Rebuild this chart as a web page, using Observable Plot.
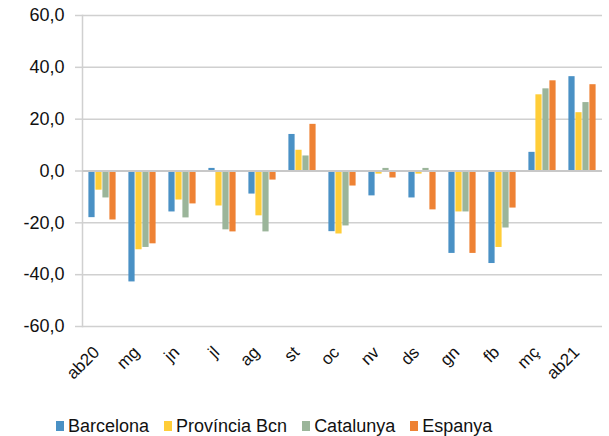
<!DOCTYPE html>
<html><head><meta charset="utf-8">
<script src="https://cdn.jsdelivr.net/npm/d3@7"></script>
<script src="https://cdn.jsdelivr.net/npm/@observablehq/plot@0.6"></script>
<style>
body{margin:0;background:#fff;font-family:"Liberation Sans",Arial,sans-serif;}
#chart svg{display:block}
#legend{height:36px;box-sizing:border-box;padding-top:16px;padding-left:56px;display:flex;align-items:center;font-size:18px;color:#111;line-height:20px}
#legend .item{display:flex;align-items:center;margin-right:15px}
#legend .sw{width:8px;height:10px;margin-right:4px}
</style></head><body><div id="chart"></div><div id="legend"></div>
<script>
const months = ["ab20","mg","jn","jl","ag","st","oc","nv","ds","gn","fb","mç","ab21"];
const seriesNames = ["Barcelona","Província Bcn","Catalunya","Espanya"];
const colors = ["#4a91c5","#ffcd38","#9bb59a","#ee8234"];
const barcelona = [-18.0,-42.8,-15.8,1.0,-8.9,14.1,-23.4,-9.6,-10.4,-31.8,-35.7,7.2,36.4];
const provincia = [-7.4,-30.4,-11.2,-13.5,-17.3,8.0,-24.3,-1.2,-1.2,-15.8,-29.5,29.4,22.5];
const catalunya = [-10.4,-29.5,-18.1,-22.7,-23.5,5.8,-21.2,1.0,1.0,-15.8,-22.0,31.7,26.4];
const espanya = [-18.9,-28.1,-12.7,-23.5,-3.5,18.0,-5.8,-2.7,-15.0,-31.8,-14.3,34.8,33.3];
const yTicks = [-60,-40,-20,0,20,40,60];

const seriesValues = [barcelona, provincia, catalunya, espanya];
const data = months.flatMap((m, i) => seriesNames.map((s, j) => ({month: m, series: s, value: seriesValues[j][i]})));

const chart = Plot.plot({
  width: 609, height: 400,
  marginLeft: 80, marginRight: 5, marginTop: 15, marginBottom: 74,
  style: {fontFamily: "Liberation Sans, Arial, sans-serif", background: "#fff", color: "#111"},
  fx: {domain: months, padding: 0, label: null, axis: null},
  x: {domain: seriesNames, axis: null, paddingInner: 0, paddingOuter: 0.73},
  y: {domain: [-60, 60], label: null},
  color: {domain: seriesNames, range: colors},
  marks: [
    Plot.ruleY(yTicks, {stroke: "#d0d0d0", strokeWidth: 1.5}),
    Plot.frame({anchor: "left", facetAnchor: "left", stroke: "#d0d0d0", strokeWidth: 1.5}),
    Plot.barY(data, {fx: "month", x: "series", y: "value", fill: "series", insetLeft: 0.4, insetRight: 0.4}),
    Plot.ruleY([0], {stroke: "#c8c8c8", strokeWidth: 2}),
    Plot.axisY({ticks: yTicks, tickFormat: d => d.toFixed(1).replace(".", ","), tickSize: 7, tickPadding: 11, stroke: "#d0d0d0", strokeWidth: 1.5, fontSize: 18, label: null, style: {letterSpacing: "1.5px"}}),
    Plot.text(months, {fx: d => d, text: d => d, frameAnchor: "bottom", textAnchor: "end", lineAnchor: "middle", rotate: -45, dy: 23, dx: -6, fontSize: 17, fill: "#111"})
  ]
});
document.getElementById("chart").appendChild(chart);

const legend = document.getElementById("legend");
seriesNames.forEach((s, i) => {
  const it = document.createElement("div"); it.className = "item";
  const sw = document.createElement("span"); sw.className = "sw"; sw.style.background = colors[i];
  const tx = document.createElement("span"); tx.textContent = s;
  it.appendChild(sw); it.appendChild(tx); legend.appendChild(it);
});
</script></body></html>
